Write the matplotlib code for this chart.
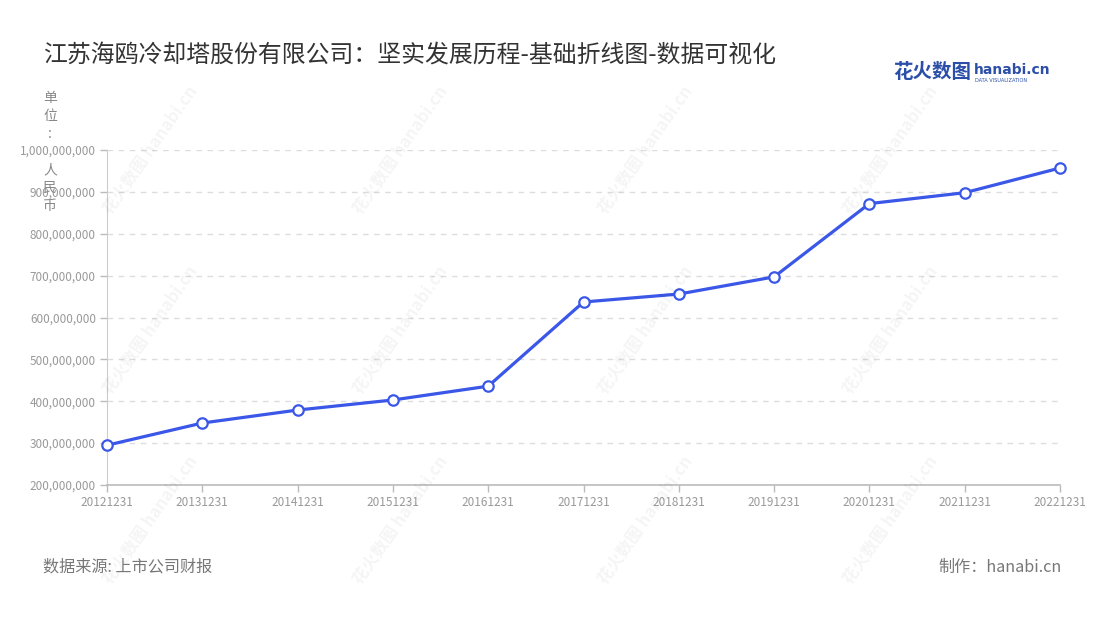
import matplotlib
matplotlib.use("Agg")
import matplotlib.pyplot as plt
from matplotlib.ticker import FuncFormatter

plt.rcParams['font.family'] = ['Noto Sans CJK SC', 'DejaVu Sans']

dates = ["20121231", "20131231", "20141231", "20151231", "20161231", "20171231",
         "20181231", "20191231", "20201231", "20211231", "20221231"]
values = [295e6, 348e6, 379e6, 403e6, 436e6, 637e6, 656e6, 697e6, 872e6, 898e6, 957e6]
yticks = [200e6, 300e6, 400e6, 500e6, 600e6, 700e6, 800e6, 900e6, 1000e6]

title = "江苏海鸥冷却塔股份有限公司：坚实发展历程-基础折线图-数据可视化"
source = "数据来源: 上市公司财报"
maker = "制作：hanabi.cn"
unit_label = "单\n位\n:\n \n人\n民\n币"

W, H = 1100, 620
fig = plt.figure(figsize=(W / 100, H / 100), dpi=100)
fig.patch.set_facecolor("white")

# watermarks
for cx in [150, 400, 645, 890]:
    for cy in [150, 330, 520]:
        fig.text(cx / W, 1 - cy / H, "花火数图 hanabi.cn", rotation=55, fontsize=12,
                 color="#000000", alpha=0.045, ha="center", va="center",
                 fontweight="bold", zorder=0)

ax = fig.add_axes([107 / W, 1 - 485 / H, (1060 - 107) / W, (485 - 150) / H])
ax.set_facecolor("none")
x = list(range(len(dates)))
ax.plot(x, values, color="#3b57e8", linewidth=2.3, marker="o", markersize=7.5,
        markerfacecolor="white", markeredgecolor="#3b57e8", markeredgewidth=1.6,
        zorder=5, clip_on=False)

ax.set_xlim(0, len(dates) - 1)
ax.set_ylim(200e6, 1000e6)
ax.set_xticks(x)
ax.set_xticklabels(dates)
ax.set_yticks(yticks)
ax.yaxis.set_major_formatter(FuncFormatter(lambda v, p: f"{int(round(v)):,}"))
ax.tick_params(axis="both", colors="#bbbbbb", labelcolor="#999999", labelsize=8.5,
               length=5, width=1)
ax.tick_params(axis="y", pad=3)
ax.tick_params(axis="x", pad=3)
ax.grid(axis="y", color="#dddddd", linestyle=(0, (4, 4)), linewidth=1)
for s in ["top", "right"]:
    ax.spines[s].set_visible(False)
ax.spines["left"].set_color("#cccccc")
ax.spines["bottom"].set_color("#bbbbbb")
ax.spines["bottom"].set_linewidth(1.2)

fig.text(43 / W, 1 - 56 / H, title, fontsize=17.2, color="#333333", ha="left", va="center")
fig.text(50 / W, 1 - 152 / H, unit_label, fontsize=10, color="#888888", ha="center",
         va="center", linespacing=1.35)
fig.text(43 / W, 1 - 567 / H, source, fontsize=11.6, color="#777777", ha="left", va="center")
fig.text(1062 / W, 1 - 567 / H, maker, fontsize=11.6, color="#777777", ha="right", va="center")

# logo
fig.text(893 / W, 1 - 73 / H, "花火数图", fontsize=14, color="#2b4fa8", ha="left",
         va="center", fontweight="bold")
fig.text(974 / W, 1 - 70 / H, "hanabi.cn", fontsize=10, color="#2b4fa8", ha="left",
         va="center", fontweight="bold", family=["DejaVu Sans"])
fig.text(975 / W, 1 - 80 / H, "DATA VISUALIZATION", fontsize=3.6, color="#2b4fa8",
         ha="left", va="center", family=["DejaVu Sans"])

fig.savefig("out.png", dpi=100)
